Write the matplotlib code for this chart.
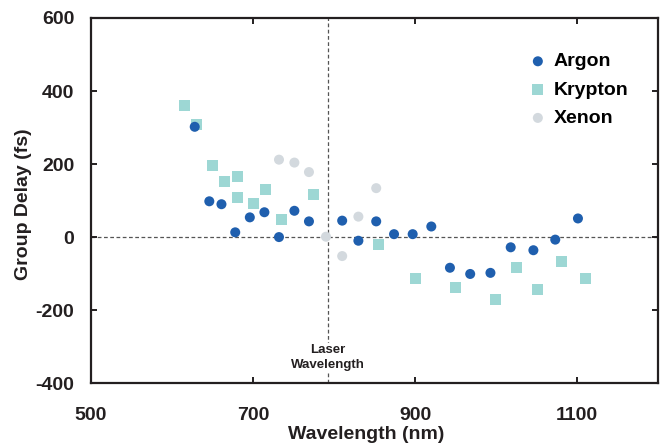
import matplotlib.pyplot as plt

plt.rcParams["font.family"] = ["Liberation Sans", "DejaVu Sans"]
plt.rcParams["font.weight"] = "bold"
plt.rcParams["axes.unicode_minus"] = False

# Data
argon_nm = [628, 646, 661, 678, 696, 714, 732, 751, 769, 810, 830, 852,
            874, 897, 920, 943, 968, 993, 1018, 1046, 1073, 1101]
argon_fs = [302, 98, 90, 13, 54, 68, 0, 72, 43, 45, -10, 43,
            8, 8, 29, -84, -101, -98, -28, -36, -7, 51]

krypton_nm = [615, 630, 650, 665, 681, 681, 700, 715, 735, 775,
              855, 900, 950, 999, 1025, 1051, 1081, 1110]
krypton_fs = [361, 309, 196, 153, 166, 109, 92, 131, 48, 117,
              -20, -113, -138, -171, -83, -143, -67, -113]

xenon_nm = [732, 751, 769, 790, 810, 830, 852]
xenon_fs = [212, 204, 178, 1, -52, 56, 134]

laser_nm = 792
x_ticks = [500, 700, 900, 1100]
y_ticks = [-400, -200, 0, 200, 400, 600]

text_color = "#231f20"

fig = plt.figure(figsize=(6.61, 4.45), dpi=100)
ax = fig.add_axes([0.1377, 0.139, 0.858, 0.8206])

# Reference lines
ax.axhline(0, color="#555555", lw=0.9, ls=(0, (3, 2)), zorder=1)
ax.axvline(laser_nm, color="#555555", lw=0.9, ls=(0, (3, 2)), zorder=1)

ax.scatter(xenon_nm, xenon_fs, s=52, marker="o", color="#d3d9de",
           edgecolors="none", label="Xenon", zorder=2)
ax.scatter(krypton_nm, krypton_fs, s=62, marker="s", color="#9dd7d4",
           edgecolors="none", label="Krypton", zorder=3)
ax.scatter(argon_nm, argon_fs, s=52, marker="o", color="#1f5fae",
           edgecolors="none", label="Argon", zorder=4)

ax.text(laser_nm, -330, "Laser\nWavelength", ha="center", va="center",
        fontsize=9.5, fontweight="bold", color=text_color, linespacing=1.3,
        bbox=dict(facecolor="white", edgecolor="none", pad=1), zorder=5)

ax.set_xlim(500, 1200)
ax.set_ylim(-400, 600)
ax.set_xticks(x_ticks)
ax.set_yticks(y_ticks)

for side in ["left", "right", "top", "bottom"]:
    ax.spines[side].set_linewidth(1.6)
    ax.spines[side].set_color(text_color)

ax.tick_params(axis="both", direction="in", length=4, width=1.4,
               top=True, right=True, labelsize=14, colors=text_color)
ax.tick_params(axis="x", pad=17.5)
ax.tick_params(axis="y", pad=12)

ax.set_xlabel("Wavelength (nm)", fontsize=14, fontweight="bold",
              color=text_color)
ax.xaxis.set_label_coords(0.485, -0.116)
ax.set_ylabel("Group Delay (fs)", fontsize=14, fontweight="bold",
              color=text_color)
ax.yaxis.set_label_coords(-0.104, 0.49)

handles, labels = ax.get_legend_handles_labels()
order = [2, 1, 0]
ax.legend([handles[i] for i in order], [labels[i] for i in order],
          loc="upper left", bbox_to_anchor=(0.757, 0.926), frameon=False,
          handletextpad=0.3, labelspacing=0.55,
          handlelength=1.0, borderaxespad=0,
          prop={"weight": "bold", "size": 14})

plt.savefig("out.png", dpi=100)
